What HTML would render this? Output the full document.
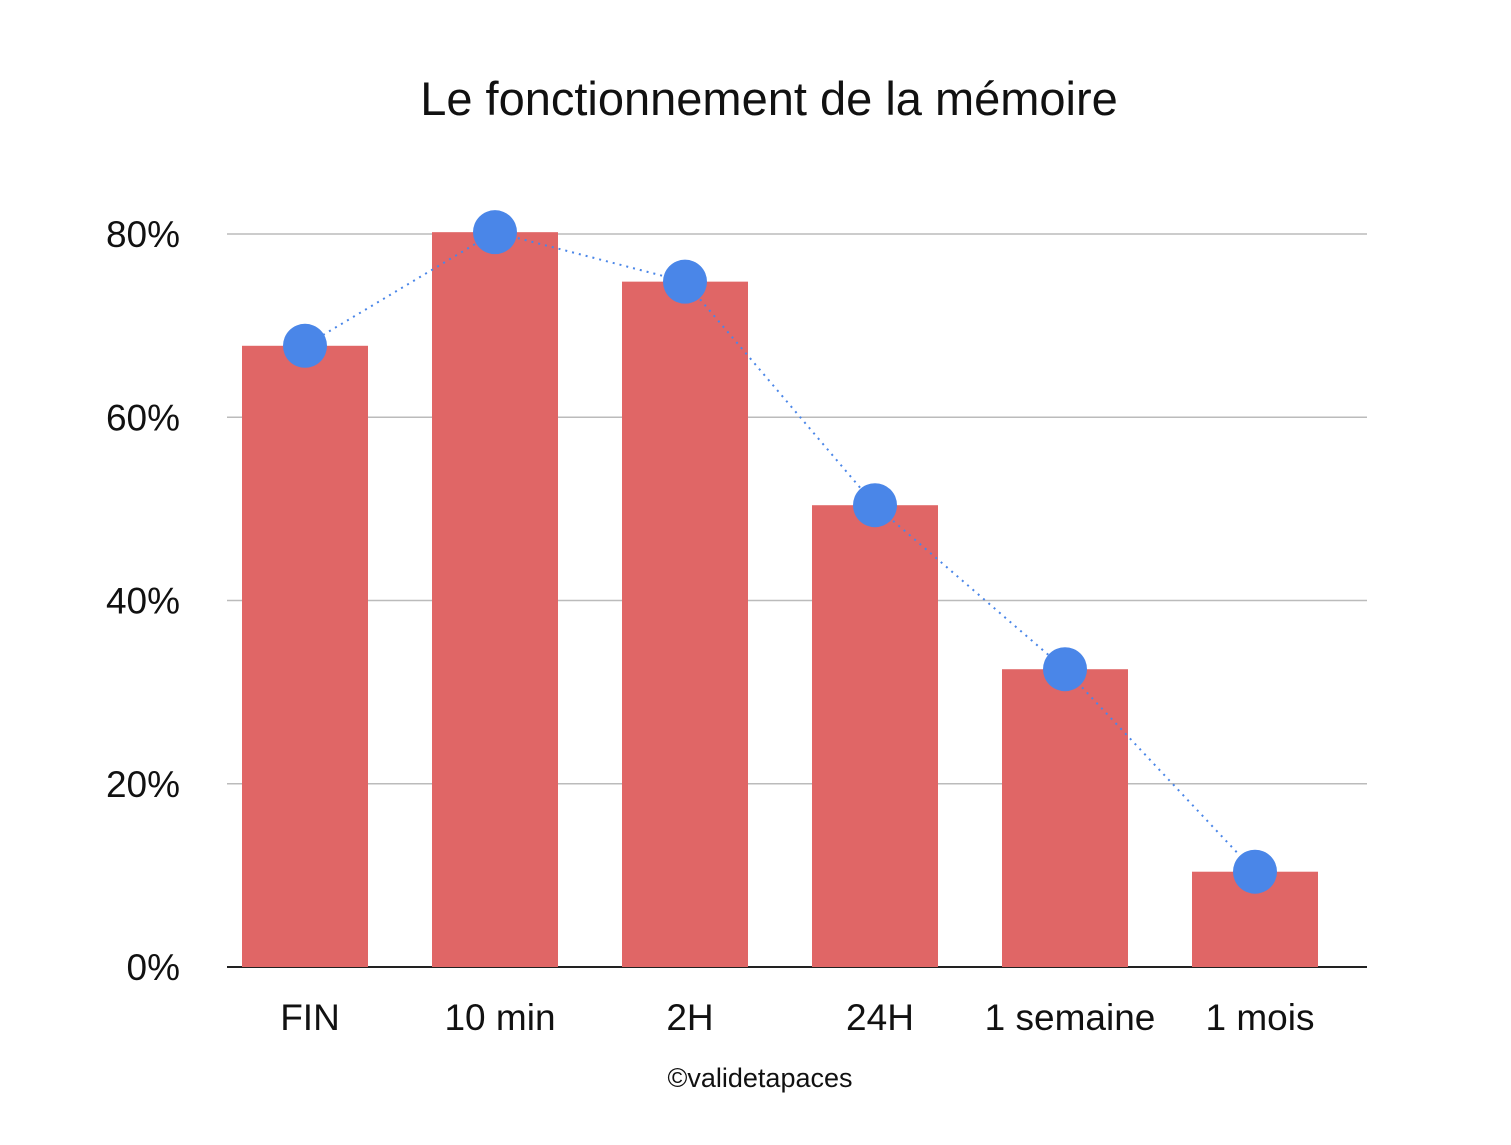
<!DOCTYPE html>
<html><head><meta charset="utf-8"><style>
body{margin:0;background:#fff}
svg{display:block}
text{font-family:"Liberation Sans",sans-serif;fill:#111}
</style></head><body>
<svg id="chart" width="1511" height="1145">
<text x="769" y="115" font-size="47" text-anchor="middle">Le fonctionnement de la mémoire</text>
<g id="grid"></g><g id="bars"></g><g id="line"></g><g id="xlabels"></g>
<text x="760" y="1087" font-size="27" text-anchor="middle">©validetapaces</text>
</svg>
<script>
const categories=["FIN","10 min","2H","24H","1 semaine","1 mois"];
const barValues=[67.8,80.2,74.8,50.4,32.5,10.4];
const pointValues=[67.8,80.2,74.8,50.4,32.5,10.4];
const tickValues=[0,20,40,60,80];
const tickLabels=["0%","20%","40%","60%","80%"];
const NS="http://www.w3.org/2000/svg";
const y0=967,y80=234;
function yScale(v){return y0-(y80-y0)*-1*v/80;}
function xCenter(i){return 305+i*190;}
function mk(t,a,p){const e=document.createElementNS(NS,t);for(const k in a)e.setAttribute(k,a[k]);p.appendChild(e);return e;}
const grid=document.getElementById('grid');
tickValues.forEach((v,i)=>{
 const y=yScale(v);
 const l=mk('line',{x1:227,x2:1367,y1:y,y2:y,stroke:i===0?'#222':'#bbb','stroke-width':i===0?2:1.5},grid);
 
 
 const t=mk('text',{x:180,y:y+13,'font-size':37,'text-anchor':'end'},grid);
 t.textContent=tickLabels[i];
 
 
});
const bars=document.getElementById('bars');
barValues.forEach((v,i)=>{
 const r=mk('rect',{x:xCenter(i)-63,width:126,y:yScale(v),height:yScale(0)-yScale(v),fill:'#e06666'},bars);
 
 
});
const lg=document.getElementById('line');
const pts=pointValues.map((v,i)=>xCenter(i)+','+yScale(v)).join(' ');
const pl=mk('polyline',{points:pts,fill:'none',stroke:'#4a86e8','stroke-width':2,'stroke-dasharray':'2 5'},lg);


pointValues.forEach((v,i)=>{
 const c=mk('circle',{cx:xCenter(i),cy:yScale(v),r:22,fill:'#4a86e8'},lg);
 
 
});
const xl=document.getElementById('xlabels');
categories.forEach((c,i)=>{
 const t=mk('text',{x:xCenter(i)+5,y:1030,'font-size':37,'text-anchor':'middle'},xl);
 t.textContent=c;
 
 
});
</script>
</body></html>
